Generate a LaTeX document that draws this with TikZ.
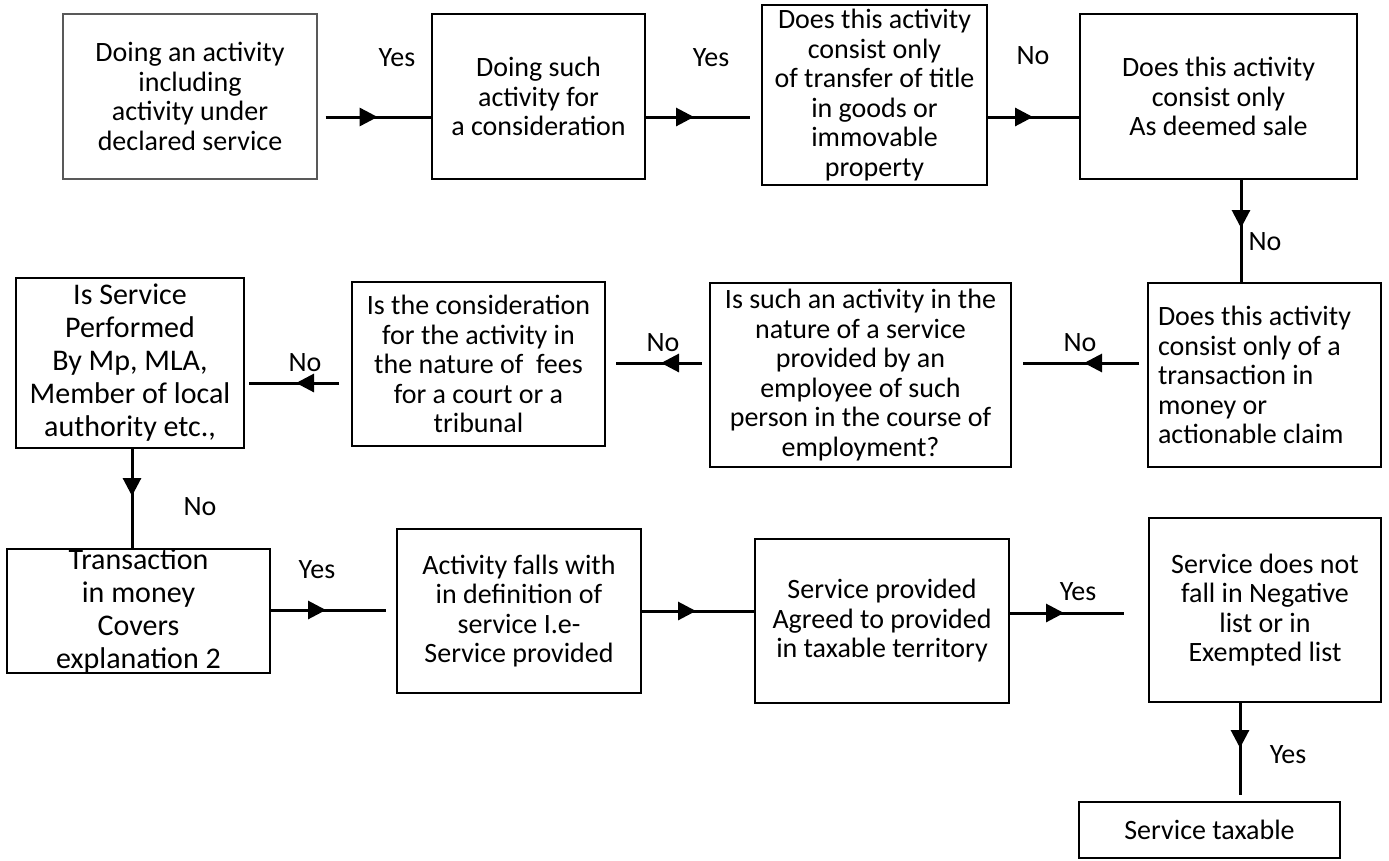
\documentclass[tikz,border=0pt]{standalone}
\usepackage{fontspec}
\setmainfont{Carlito}
\usetikzlibrary{arrows.meta,decorations.markings,calc}
\begin{document}
\begin{tikzpicture}[x=1pt,y=-1pt,
  txt/.style={font=\fontsize{28pt}{29.5pt}\selectfont},
  big/.style={font=\fontsize{30pt}{33pt}\selectfont},
  box/.style={draw=black, line width=2pt, inner sep=0pt, align=center, txt},
  thinbox/.style={draw=black!65, line width=1.2pt, inner sep=0pt, align=center, txt},
  lbl/.style={txt, inner sep=0pt},
  conn/.style={line width=3pt},
  tipat/.style={postaction={decorate}, decoration={markings, mark=at position #1 with {\arrow{Triangle[length=18pt,width=18pt]}}}}
]
\useasboundingbox (0,0) rectangle (1389,860);

% row 1
\node[thinbox, minimum width=254pt, minimum height=165pt] (b1) at (190,96.5)
  {Doing an activity\\including\\activity under\\declared service};
\node[box, minimum width=213pt, minimum height=165pt] (b2) at (538.5,96.5)
  {Doing such\\activity for\\a consideration};
\node[box, minimum width=225pt, minimum height=180pt] (b3) at (874.5,95)
  {Does this activity\\consist only\\of transfer of title\\in goods or\\immovable\\property};
\node[box, minimum width=277pt, minimum height=165pt] (b4) at (1218.5,96.5)
  {Does this activity\\consist only\\As deemed sale};

% row 2
\node[box, align=flush left, text width=213pt, inner xsep=10pt, minimum height=184pt] (b5) at (1264.5,375)
  {Does this activity\\consist only of a\\transaction in\\money or\\actionable claim};
\node[box, minimum width=301pt, minimum height=184pt] (b6) at (860.5,375)
  {Is such an activity in the\\nature of a service\\provided by an\\employee of such\\person in the course of\\employment?};
\node[box, minimum width=253pt, minimum height=164pt] (b8) at (478.5,364)
  {Is the consideration\\for the activity in\\the nature of\ \ fees\\for a court or a\\tribunal};
\node[box, big, minimum width=228pt, minimum height=170pt] (b7) at (130,363)
  {Is Service\\Performed\\By Mp, MLA,\\Member of local\\authority etc.,};

% row 3
\node[box, big, minimum width=263pt, minimum height=124pt] (b10) at (138.5,611)
  {Transaction\\in money\\Covers\\explanation 2};
\node[box, minimum width=244pt, minimum height=164pt] (b11) at (519,611)
  {Activity falls with\\in definition of\\service I.e-\\Service provided};
\node[box, minimum width=254pt, minimum height=164pt] (b12) at (882,621)
  {Service provided\\Agreed to provided\\in taxable territory};
\node[box, minimum width=232pt, minimum height=184pt] (b13) at (1265,610)
  {Service does not\\fall in Negative\\list or in\\Exempted list};
\node[box, minimum width=261pt, minimum height=56pt] (b14) at (1209.5,830)
  {Service taxable};

% helper coordinates for connector levels
\coordinate (r1) at (0,117);
\coordinate (r2) at (0,363);
\coordinate (r3) at (0,383);
\coordinate (r4) at (0,610);
\coordinate (r5) at (0,611);
\coordinate (r6) at (0,613);
\coordinate (c4) at (1241,0);
\coordinate (c1) at (132,0);
\coordinate (c2) at (1240,0);

% connectors
\draw[conn, tipat=52pt] ($(b1.east|-r1)+(8,0)$) -- (b2.west|-r1);
\draw[conn, tipat=48pt] (b2.east|-r1) -- ($(b3.west|-r1)+(-11,0)$);
\draw[conn, tipat=45pt] (b3.east|-r1) -- (b4.west|-r1);
\draw[conn, tipat=48pt] (b4.south-|c4) -- (b5.north-|c4);
\draw[conn, tipat=55pt] ($(b5.west|-r2)+(-8,0)$) -- ($(b6.east|-r2)+(11,0)$);
\draw[conn, tipat=41pt] ($(b6.west|-r2)+(-7,0)$) -- ($(b8.east|-r2)+(10,0)$);
\draw[conn, tipat=43pt] ($(b8.west|-r3)+(-12,0)$) -- ($(b7.east|-r3)+(4,0)$);
\draw[conn, tipat=47pt] (b7.south-|c1) -- (b10.north-|c1);
\draw[conn, tipat=55pt] (b10.east|-r4) -- ($(b11.west|-r4)+(-10,0)$);
\draw[conn, tipat=54pt] (b11.east|-r5) -- (b12.west|-r5);
\draw[conn, tipat=54pt] (b12.east|-r6) -- ($(b13.west|-r6)+(-24,0)$);
\draw[conn, tipat=45pt] (b13.south-|c2) -- ($(b14.north-|c2)+(0,-6)$);

% labels
\node[lbl] (l1) at (397,58) {Yes};
\node[lbl] (l2) at (711,58) {Yes};
\node[lbl] (l3) at (1033,56) {No};
\node[lbl] (l4) at (1265,242) {No};
\node[lbl] (l5) at (1080,343) {No};
\node[lbl] (l6) at (663,343) {No};
\node[lbl] (l7) at (305,363) {No};
\node[lbl] (l8) at (200,507) {No};
\node[lbl] (l9) at (317,570) {Yes};
\node[lbl] (l10) at (1078,592) {Yes};
\node[lbl] (l11) at (1288,755) {Yes};
\end{tikzpicture}
\end{document}
